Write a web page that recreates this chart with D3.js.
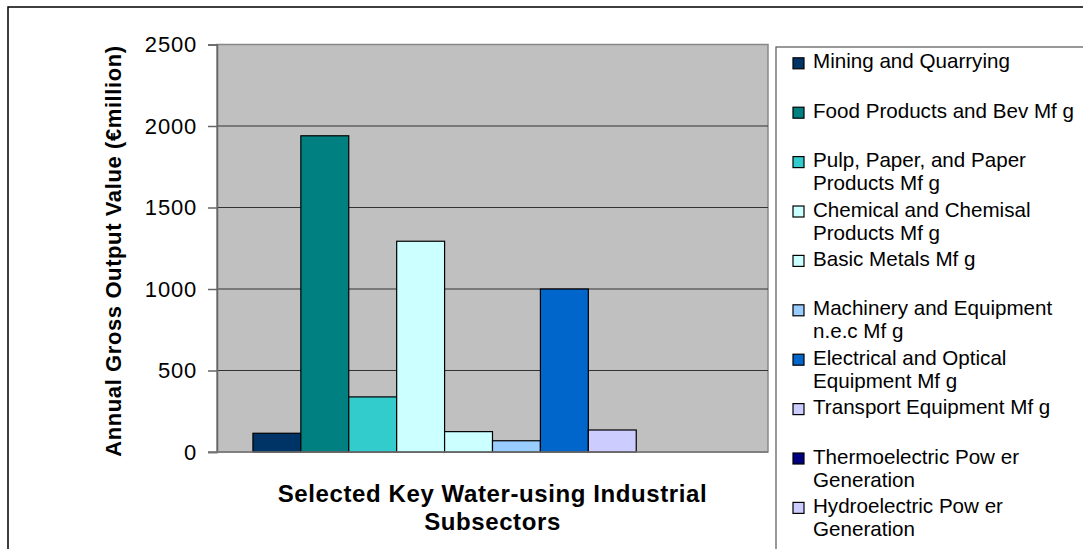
<!DOCTYPE html>
<html>
<head>
<meta charset="utf-8">
<script src="https://cdn.jsdelivr.net/npm/d3@7"></script>
<style>
  body { margin: 0; background: #fff; }
  text { font-family: "Liberation Sans", Arial, sans-serif; }
</style>
</head>
<body>
<div id="chart"></div>
<script>
// subsectors shown as separate series of one category
var subsectors = [
  "Mining and Quarrying",
  "Food Products and Bev Mfg",
  "Pulp, Paper, and Paper Products Mfg",
  "Chemical and Chemisal Products Mfg",
  "Basic Metals Mfg",
  "Machinery and Equipment n.e.c Mfg",
  "Electrical and Optical Equipment Mfg",
  "Transport Equipment Mfg",
  "Thermoelectric Pow er Generation",
  "Hydroelectric Pow er Generation"
];
// legend text as it wraps in the picture
var legendLines = [
  ["Mining and Quarrying"],
  ["Food Products and Bev Mf g"],
  ["Pulp, Paper, and Paper", "Products Mf g"],
  ["Chemical and Chemisal", "Products Mf g"],
  ["Basic Metals Mf g"],
  ["Machinery and Equipment", "n.e.c Mf g"],
  ["Electrical and Optical", "Equipment Mf g"],
  ["Transport Equipment Mf g"],
  ["Thermoelectric Pow er", "Generation"],
  ["Hydroelectric Pow er", "Generation"]
];
var outputValues = [115, 1940, 338, 1293, 125, 69, 1000, 135, 0, 0];
var colours = ["#003366", "#008080", "#33CCCC", "#CCFFFF", "#CCFFFF",
               "#99CCFF", "#0066CC", "#CCCCFF", "#000080", "#CCCCFF"];
var yTicks = [0, 500, 1000, 1500, 2000, 2500];

var W = 1083, H = 549;
var plot = { left: 217, right: 768, top: 44.5, bottom: 452 };

var svg = d3.select("#chart").append("svg")
  .attr("width", W)
  .attr("height", H);

// outer chart border (runs off the right and bottom)
svg.append("rect")
  .attr("x", 8).attr("y", 7)
  .attr("width", W).attr("height", H)
  .attr("fill", "none")
  .attr("stroke", "#000")
  .attr("stroke-width", 1.5);

var y = d3.scaleLinear().domain([0, 2500]).range([plot.bottom, plot.top]);

// one category: gap of 150% of a bar width split to both sides
var barW = (plot.right - plot.left) / (subsectors.length + 1.5);
var x = d3.scaleBand()
  .domain(subsectors)
  .range([plot.left + barW * 0.75, plot.right - barW * 0.75])
  .padding(0);

svg.append("rect")
  .attr("x", plot.left).attr("y", plot.top)
  .attr("width", plot.right - plot.left)
  .attr("height", plot.bottom - plot.top)
  .attr("fill", "#C0C0C0")
  .attr("stroke", "#888")
  .attr("stroke-width", 1.5);

// gridlines
svg.append("g")
  .selectAll("line")
  .data(yTicks.filter(function(d) { return d > 0 && d < 2500; }))
  .enter()
  .append("line")
  .attr("x1", plot.left).attr("x2", plot.right)
  .attr("y1", function(d) { return y(d); })
  .attr("y2", function(d) { return y(d); })
  .attr("stroke", "#333")
  .attr("stroke-width", 1);

// y axis
var yAxis = svg.append("g")
  .attr("transform", "translate(" + plot.left + ",0)")
  .call(d3.axisLeft(y).tickValues(yTicks).tickFormat(d3.format("d"))
    .tickSize(9).tickPadding(11));
yAxis.select(".domain").attr("stroke", "#666").attr("stroke-width", 1.5);
yAxis.selectAll(".tick line").attr("stroke", "#666").attr("stroke-width", 1.5);
yAxis.selectAll(".tick text")
  .attr("font-size", 22)
  .attr("letter-spacing", 0.8)
  .attr("font-family", "Liberation Sans, Arial, sans-serif")
  .attr("fill", "#000");

// bars
svg.append("g")
  .selectAll("rect")
  .data(outputValues)
  .enter()
  .append("rect")
  .attr("x", function(d, i) { return x(subsectors[i]); })
  .attr("y", function(d) { return y(d); })
  .attr("width", x.bandwidth())
  .attr("height", function(d) { return y(0) - y(d); })
  .attr("fill", function(d, i) { return colours[i]; })
  .attr("stroke", "#000")
  .attr("stroke-width", 1.2);

// bottom axis line
svg.append("line")
  .attr("x1", plot.left - 9).attr("x2", plot.right)
  .attr("y1", plot.bottom).attr("y2", plot.bottom)
  .attr("stroke", "#777")
  .attr("stroke-width", 1.5);

// axis titles
svg.append("text")
  .attr("transform", "translate(121," + 251 + ") rotate(-90)")
  .attr("text-anchor", "middle")
  .attr("font-weight", "bold")
  .attr("font-size", 22)
  .attr("letter-spacing", 0.6)
  .text("Annual Gross Output Value (\u20acmillion)");

var xTitle = svg.append("text")
  .attr("text-anchor", "middle")
  .attr("font-weight", "bold")
  .attr("font-size", 24)
  .attr("letter-spacing", 0.6);
xTitle.append("tspan").attr("x", (plot.left + plot.right) / 2).attr("y", 502)
  .text("Selected Key Water-using Industrial");
xTitle.append("tspan").attr("x", (plot.left + plot.right) / 2).attr("y", 530)
  .text("Subsectors");

// legend
svg.append("rect")
  .attr("x", 776).attr("y", 47)
  .attr("width", 400).attr("height", 600)
  .attr("fill", "#fff")
  .attr("stroke", "#555")
  .attr("stroke-width", 1.2);

var legend = svg.append("g")
  .selectAll("g")
  .data(subsectors)
  .enter()
  .append("g")
  .attr("transform", function(d, i) { return "translate(793," + (68.3 + i * 49.4) + ")"; });

legend.append("rect")
  .attr("x", 0).attr("y", -10.5)
  .attr("width", 11).attr("height", 11)
  .attr("fill", function(d, i) { return colours[i]; })
  .attr("stroke", "#000")
  .attr("stroke-width", 1.2);

legend.append("text")
  .attr("font-size", 20.6)
  .each(function(d, i) {
    var t = d3.select(this);
    legendLines[i].forEach(function(line, j) {
      t.append("tspan")
        .attr("x", 20)
        .attr("y", j * 23)
        .text(line);
    });
  });
</script>
</body>
</html>
